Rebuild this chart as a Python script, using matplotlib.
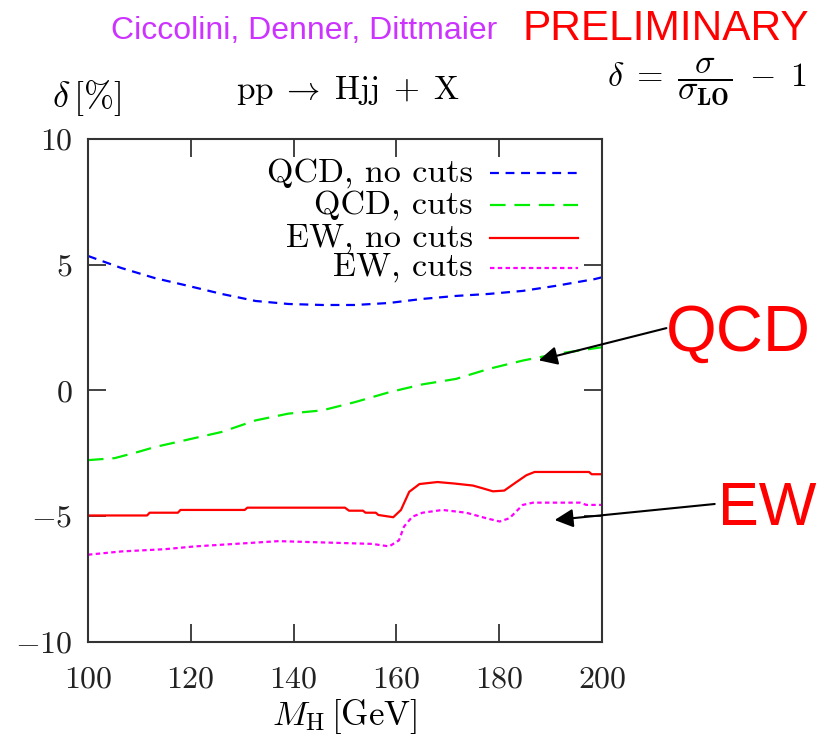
import matplotlib
matplotlib.use("Agg")
from matplotlib import pyplot as plt

plt.rcParams['font.family'] = 'serif'
plt.rcParams['font.serif'] = ['cmr10']
plt.rcParams['mathtext.fontset'] = 'cm'
plt.rcParams['axes.formatter.use_mathtext'] = True

# QCD, no cuts
mh_qcd_nocuts = [100, 106.5, 113, 119.5, 126, 132.6, 139, 145.6, 152, 158.6, 165, 171.6, 178, 184.6, 191, 198.6, 200]
qcd_nocuts = [5.35, 4.87, 4.47, 4.16, 3.84, 3.56, 3.44, 3.4, 3.4, 3.48, 3.64, 3.76, 3.84, 3.96, 4.16, 4.43, 4.5]

# QCD, cuts
mh_qcd_cuts = [100, 105.2, 109.8, 113, 119.5, 126, 132.6, 139, 145.6, 152, 158.6, 165, 171.6, 178, 184.6, 191, 200]
qcd_cuts = [-2.77, -2.69, -2.44, -2.25, -1.95, -1.65, -1.19, -0.92, -0.79, -0.46, -0.07, 0.24, 0.46, 0.86, 1.19, 1.45, 1.72]

# EW, no cuts
mh_ew_nocuts = [100, 111.5, 112, 117.5, 118, 130.5, 131, 150, 150.8, 153.5, 154, 156, 156.5, 159.4, 160.9, 162.5,
                164.5, 168, 171.3, 174.9, 176.8, 178.8, 181, 183.3, 185.3, 186.9, 197.5, 198, 200]
ew_nocuts = [-4.97, -4.97, -4.86, -4.86, -4.75, -4.75, -4.66, -4.66, -4.78, -4.78, -4.86, -4.86, -4.95, -5.04, -4.75, -4.03,
             -3.72, -3.64, -3.70, -3.78, -3.89, -4.01, -3.98, -3.65, -3.37, -3.24, -3.24, -3.33, -3.33]

# EW, cuts
mh_ew_cuts = [100, 106.5, 115, 120.8, 128.6, 137.1, 155.3, 158.6, 160.5, 161.5, 163.1, 165.1, 169, 173.6, 177.5,
              180.1, 182, 184.6, 186.6, 195.7, 197, 200]
ew_cuts = [-6.53, -6.40, -6.31, -6.2, -6.1, -5.99, -6.1, -6.2, -5.96, -5.41, -5.02, -4.86, -4.75, -4.86, -5.08,
           -5.21, -5.08, -4.55, -4.46, -4.46, -4.55, -4.55]

series = [
    (mh_qcd_nocuts, qcd_nocuts, 'QCD, no cuts', '#0000ff', (0, (4, 3))),
    (mh_qcd_cuts, qcd_cuts, 'QCD, cuts', '#00ee00', (0, (7, 4))),
    (mh_ew_nocuts, ew_nocuts, 'EW, no cuts', '#ff0000', '-'),
    (mh_ew_cuts, ew_cuts, 'EW, cuts', '#ff00ff', (0, (2, 1.5))),
]
legend_y = [0.932, 0.869, 0.803, 0.744]

fig = plt.figure(figsize=(8.33, 7.39), dpi=100)
ax = fig.add_axes([0.1056, 0.1313, 0.617, 0.6806])

for (x, y, lab, col, ls), ly in zip(series, legend_y):
    ax.plot(x, y, color=col, linestyle=ls, lw=1.6)
    # hand-made legend, text right aligned
    ax.plot([0.782, 0.953], [ly, ly], color=col, linestyle=ls, lw=1.6, transform=ax.transAxes)
    ax.text(0.749, ly, lab, ha='right', va='center', fontsize=24.5, transform=ax.transAxes)

ax.set_xlim(100, 200)
ax.set_ylim(-10, 10)
ax.set_xticks([100, 120, 140, 160, 180, 200])
ax.set_yticks([-10, -5, 0, 5, 10])
ax.tick_params(direction='in', length=13, width=1.2, top=True, right=True, labelsize=23, colors='#222222')
ax.tick_params(axis='x', pad=17)
ax.tick_params(axis='y', pad=11)
for s in ax.spines.values():
    s.set_color('#333333')
    s.set_linewidth(1.5)
ax.set_xlabel(r'$M_{\mathrm{H}}\,[\mathrm{GeV}]$', fontsize=25, labelpad=3)

fig.text(0.365, 0.958, 'Ciccolini, Denner, Dittmaier', color='#cc33ff', fontsize=23,
         family='Liberation Sans', ha='center', va='center')
fig.text(0.799, 0.961, 'PRELIMINARY', color='#ff0000', fontsize=30.5,
         family='Liberation Sans', ha='center', va='center')
fig.text(0.104, 0.867, r'$\delta\,[\%]$', fontsize=26, ha='center', va='center')
fig.text(0.418, 0.878, r'$\mathrm{pp}\;\rightarrow\;\mathrm{Hjj}\;+\;\mathrm{X}$', fontsize=24, ha='center', va='center')
fig.text(0.848, 0.890, r'$\delta\;=\;\dfrac{\sigma}{\sigma_{\mathbf{LO}}}\;-\;1$', fontsize=24.5, ha='center', va='center')

fig.text(0.886, 0.549, 'QCD', color='#ff0000', fontsize=47, family='Liberation Sans', ha='center', va='center')
fig.text(0.921, 0.310, 'EW', color='#ff0000', fontsize=44, family='Liberation Sans', ha='center', va='center')

arrow = dict(arrowstyle='-|>', color='k', lw=1.5, mutation_scale=28, shrinkA=0, shrinkB=0)
ax.annotate('', xy=(187.7, 1.2), xytext=(0.800, 0.556), textcoords='figure fraction', arrowprops=arrow)
ax.annotate('', xy=(190.8, -5.15), xytext=(0.858, 0.318), textcoords='figure fraction', arrowprops=arrow)

fig.savefig('out.png', dpi=100)
